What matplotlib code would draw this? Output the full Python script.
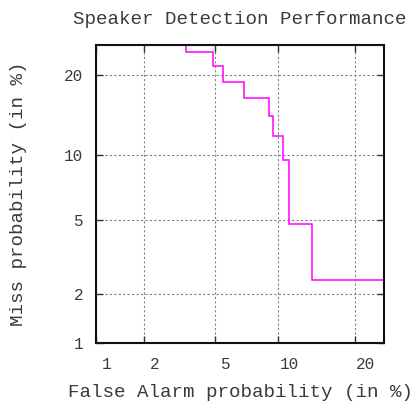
import numpy as np
import matplotlib
matplotlib.use('Agg')
import matplotlib.pyplot as plt
from matplotlib.transforms import ScaledTranslation
from statistics import NormalDist

# Step curve: false-alarm rates (%) where the miss rate drops, and miss levels (%)
fa_steps = [3.5, 4.9, 5.5, 7.0, 9.1, 9.5, 10.5, 11.1, 13.8]
miss_levels = [23.8, 21.4, 19.0, 16.7, 14.3, 11.9, 9.5, 4.8, 2.4]
miss_start = 30.0
fa_end = 30.0
tick_values = [1, 2, 5, 10, 20]
tick_labels = ['1', '2', '5', '10', '20']

_nd = NormalDist()
_ppf = np.vectorize(_nd.inv_cdf, otypes=[float])
_cdf = np.vectorize(_nd.cdf, otypes=[float])

def fwd(p):
    p = np.clip(np.asarray(p, dtype=float) / 100.0, 1e-9, 1 - 1e-9)
    return _ppf(p)

def inv(z):
    return _cdf(np.asarray(z, dtype=float)) * 100.0

xs = [fa_steps[0]]
ys = [miss_start]
for i, (f, m) in enumerate(zip(fa_steps, miss_levels)):
    xs.append(f); ys.append(m)
    nxt = fa_steps[i + 1] if i + 1 < len(fa_steps) else fa_end
    xs.append(nxt); ys.append(m)

plt.rcParams['font.family'] = ['Liberation Mono', 'DejaVu Sans Mono']
txt = '#3a3a3a'

fig = plt.figure(figsize=(4.11, 4.05), dpi=100)
ax = fig.add_axes([96/411, 62/405, 288/411, 298/405])
ax.set_xscale('function', functions=(fwd, inv))
ax.set_yscale('function', functions=(fwd, inv))

ax.plot(xs, ys, color='#ff00ff', lw=1.1, solid_joinstyle='miter')

ax.set_xlim(1, 25)
ax.set_ylim(1, 25)
ax.set_xticks(tick_values)
ax.set_xticklabels(tick_labels)
ax.set_yticks(tick_values)
ax.set_yticklabels(tick_labels)
ax.minorticks_off()

ax.grid(True, color='#808080', lw=0.8, linestyle=(0, (2, 2)))
ax.tick_params(direction='in', length=5, width=1, color='#333333',
               top=True, right=True, labelsize=11.5, labelcolor=txt)
ax.tick_params(axis='x', pad=10)
ax.tick_params(axis='y', pad=9)
for lab in ax.get_xticklabels():
    lab.set_transform(lab.get_transform() + ScaledTranslation(11/100, 0, fig.dpi_scale_trans))
for s in ax.spines.values():
    s.set_linewidth(1.5)
    s.set_color('#111111')

ax.set_title('Speaker Detection Performance', fontsize=13.8, color=txt, pad=15)
ax.set_xlabel('False Alarm probability (in %)', fontsize=13.8, color=txt, labelpad=9)
ax.set_ylabel('Miss probability (in %)', fontsize=13.8, color=txt, labelpad=27)

fig.savefig('out.png', dpi=100)
